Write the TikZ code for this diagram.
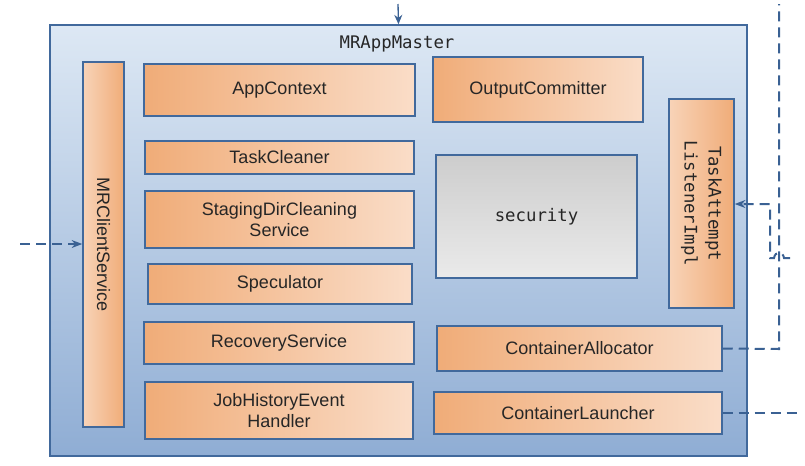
\documentclass[tikz,border=0pt]{standalone}
\usepackage{fontspec}
\setmainfont{Liberation Sans}
\setmonofont{DejaVu Sans Mono}
\usetikzlibrary{arrows.meta,positioning}
\definecolor{bgtop}{HTML}{DDE8F4}
\definecolor{bgbot}{HTML}{8FADD4}
\definecolor{edge}{HTML}{41699C}
\definecolor{ordark}{HTML}{F0AC78}
\definecolor{orlight}{HTML}{FADDC8}
\definecolor{grtop}{HTML}{CDCDCD}
\definecolor{grbot}{HTML}{EAEAEA}
\definecolor{ink}{HTML}{262626}
\definecolor{wire}{HTML}{3A6193}
\begin{document}
\begin{tikzpicture}[x=0.75pt,y=-0.75pt,
	part/.style={draw=edge,line width=1.1pt,left color=ordark,right color=orlight,text=ink,font=\fontsize{13.5}{15.5}\selectfont,align=center,inner sep=0pt},
	code/.style={font=\ttfamily\fontsize{13}{18}\selectfont,text=ink},
	link/.style={draw=wire,line width=1.5pt,dash pattern=on 7.5pt off 4.5pt},
	thinlink/.style={draw=wire,line width=0.9pt,dash pattern=on 7.5pt off 4.5pt}]
			\useasboundingbox (0,0) rectangle (805,465);
			\node[draw=edge,line width=1.2pt,top color=bgtop,bottom color=bgbot,minimum width=522.75pt,minimum height=323.25pt,inner sep=0pt] (app) at (398.5,240.5) {};
			\node[code] (title) at (397,44) {MRAppMaster};
			\node[part,rotate=-90,left color=orlight!80!ordark,right color=ordark,minimum width=273.75pt,minimum height=30.75pt] (client) at (103.5,244.5) {MRClientService};
			\node[part,minimum width=203.25pt,minimum height=39pt] (ctx) at (279.5,90) {AppContext};
			\node[part,minimum width=157.5pt,minimum height=48.75pt] (committer) at (538,89.5) {OutputCommitter};
			\node[part,minimum width=201.75pt,minimum height=24.75pt] (cleaner) at (279.5,157.5) {TaskCleaner};
			\node[part,minimum width=201.75pt,minimum height=42.75pt] (staging) at (279.5,219.5) {StagingDirCleaning\\Service};
			\node[part,minimum width=198pt,minimum height=30pt] (spec) at (280,284) {Speculator};
			\node[part,minimum width=202.5pt,minimum height=31.5pt] (recovery) at (279,343) {RecoveryService};
			\node[part,minimum width=201pt,minimum height=42.75pt] (history) at (279,410.5) {JobHistoryEvent\\Handler};
			\node[part,code,top color=grtop,bottom color=grbot,minimum width=150.75pt,minimum height=92.25pt] (security) at (536.5,216.5) {security};
			\node[part,code,rotate=-90,left color=orlight!80!ordark,right color=ordark,minimum width=156.75pt,minimum height=48.75pt] (listener) at (701.5,203.5) {TaskAttempt\\ListenerImpl};
			\node[part,minimum width=213.75pt,minimum height=33.75pt] (alloc) at (579.5,348.5) {ContainerAllocator};
			\node[part,minimum width=216pt,minimum height=31.5pt] (launch) at (578,413) {ContainerLauncher};
			\coordinate (top) at (398,4);
			\coordinate (cin) at (20,244);
			\coordinate (rtop) at (779,4);
			\coordinate (rturn) at (779,349);
			\coordinate (hop) at (790,258);
			\coordinate (hook) at (770,204);
			\coordinate (lout) at (800,413);
			\draw[draw=wire,line width=1pt,-{Stealth[length=7pt,width=6pt]}] (top) -- (app.north);
			\draw[thinlink,-{Stealth[length=8pt,width=6pt]}] (cin) -- (cin -| client.south);
			\draw[link] (alloc.east) -- (rturn) -- (rtop);
			\draw[link,-{Stealth[length=8pt,width=6pt]}] (hop) -- (784,258) .. controls (783,251) and (775,251) .. (774,258) -- (hook |- hop) -- (hook) -- (hook -| listener.north);
			\draw[thinlink] (launch.east) -- (lout);
\end{tikzpicture}
\end{document}
